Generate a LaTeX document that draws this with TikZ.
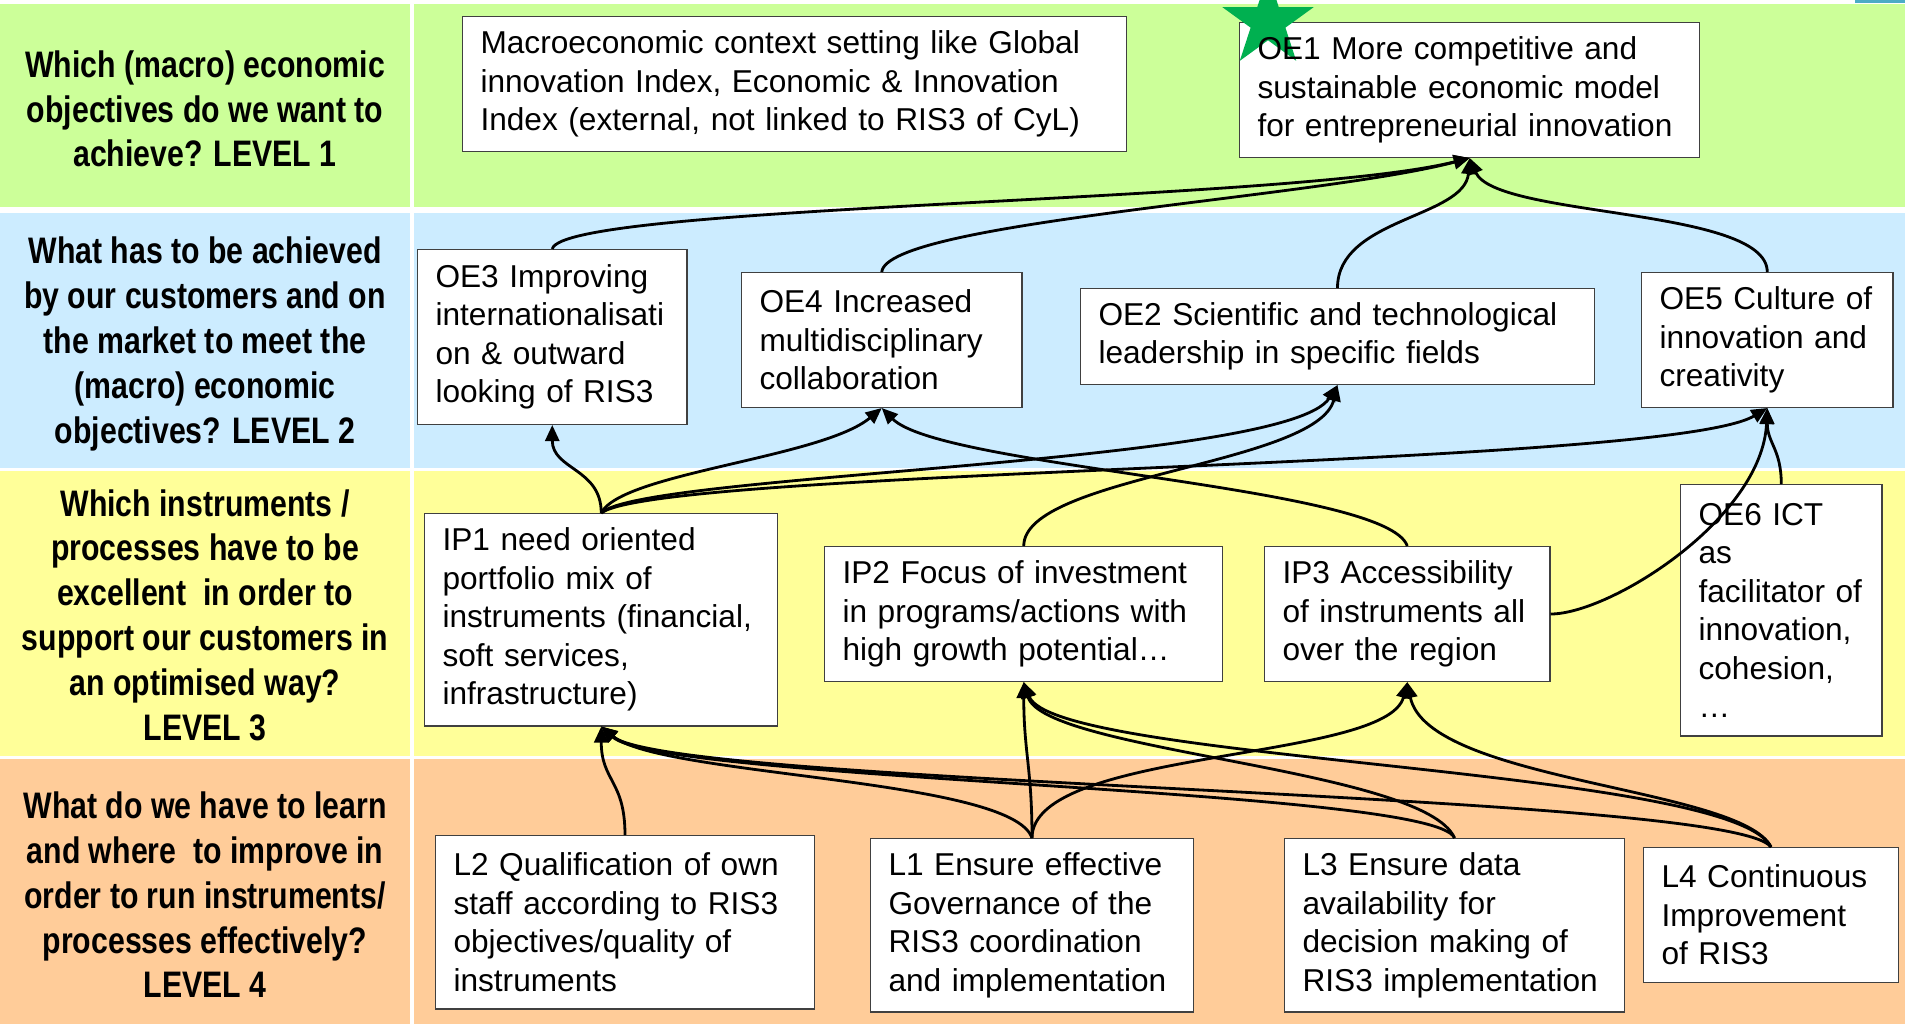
\documentclass[tikz,border=0pt]{standalone}
\usepackage{fontspec}
\setmainfont{Liberation Sans}
\newfontfamily\narrowfont[FakeStretch=0.82]{Liberation Sans}
\usetikzlibrary{arrows.meta}

\definecolor{levelone}{HTML}{CCFF99}
\definecolor{leveltwo}{HTML}{CCECFF}
\definecolor{levelthree}{HTML}{FFFF99}
\definecolor{levelfour}{HTML}{FFCC99}
\definecolor{stargreen}{HTML}{00B050}
\definecolor{tealbit}{HTML}{4BACC6}

\begin{document}
\begin{tikzpicture}[x=0.02cm,y=-0.02cm]
    \tikzset{box/.style 2 args = {draw=black!75, line width=0.6pt, fill=white, anchor=north west,
                 align=left, text width=#1, minimum height=#2, inner xsep=0.36cm, inner ysep=0pt,
                 font=\fontsize{18}{21.9}\selectfont},
             question/.style = {align=center, font=\narrowfont\bfseries\fontsize{21}{25.5}\selectfont},
             link/.style = {line width=1.6pt, -{Triangle[length=0.32cm,width=0.28cm]}}}
    \useasboundingbox (0,0) rectangle (1905,1024);

    % Level bands
    \foreach \ya/\yb/\col in {4/207/levelone, 213/468/leveltwo, 471/756/levelthree, 759/1024/levelfour}{
        \fill[\col] (0,\ya) rectangle (410,\yb);
        \fill[\col] (414,\ya) rectangle (1905,\yb);
    }
    \fill[tealbit] (1855,0) rectangle (1905,3);

    % Questions per level
    \node[question] (Q1) at (205,109) {Which (macro) economic\\objectives do we want to\\achieve? LEVEL 1};
    \node[question] (Q2) at (205,344) {What has to be achieved\\by our customers and on\\the market to meet the\\(macro) economic\\objectives? LEVEL 2};
    \node[question] (Q3) at (205,615) {Which instruments /\\processes have to be\\excellent \ in order to\\support our customers in\\an optimised way?\\LEVEL 3};
    \node[question] (Q4) at (205,895) {What do we have to learn\\and where \ to improve in\\order to run instruments/\\processes effectively?\\LEVEL 4};

    % Level 1
    \node[box={12.57cm}{2.70cm}] (CTX) at (462,16) {Macroeconomic context setting like Global\\innovation Index, Economic \& Innovation\\Index (external, not linked to RIS3 of CyL)};
    \node[box={8.49cm}{2.70cm}] (OE1) at (1239,22) {};
    \fill[stargreen, shift={(1268,22)}] (-90:48) -- (-54:18.3) -- (-18:48) -- (18:18.3) -- (54:48)
        -- (90:18.3) -- (126:48) -- (162:18.3) -- (198:48) -- (234:18.3) -- cycle;
    \node[box={8.49cm}{2.70cm}, draw=none, fill=none, anchor=center] (OE1text) at (OE1.center) {OE1 More competitive and\\sustainable economic model\\for entrepreneurial innovation};

    % Level 2
    \node[box={4.67cm}{3.50cm}] (OE3) at (417,249) {OE3 Improving\\internationalisati\\on \& outward\\looking of RIS3};
    \node[box={4.89cm}{2.70cm}] (OE4) at (741,272) {OE4 Increased\\multidisciplinary\\collaboration};
    \node[box={9.56cm}{1.92cm}] (OE2) at (1080,288) {OE2 Scientific and technological\\leadership in specific fields};
    \node[box={4.31cm}{2.70cm}] (OE5) at (1641,272) {OE5 Culture of\\innovation and\\creativity};

    % Level 3
    \node[box={6.35cm}{4.25cm}] (IP1) at (424,513) {IP1 need oriented\\portfolio mix of\\instruments (financial,\\soft services,\\infrastructure)};
    \node[box={7.25cm}{2.70cm}] (IP2) at (824,546) {IP2 Focus of investment\\in programs/actions with\\high growth potential…};
    \node[box={4.99cm}{2.70cm}] (IP3) at (1264,546) {IP3 Accessibility\\of instruments all\\over the region};
    \node[box={3.31cm}{5.03cm}] (OE6) at (1680,484) {OE6 ICT\\as\\facilitator of\\innovation,\\cohesion,\\…};

    % Level 4
    \node[box={6.86cm}{3.47cm}] (L2) at (435,835) {L2 Qualification of own\\staff according to RIS3\\objectives/quality of\\instruments};
    \node[box={5.74cm}{3.47cm}] (L1) at (870,838) {L1 Ensure effective\\Governance of the\\RIS3 coordination\\and implementation};
    \node[box={6.08cm}{3.47cm}] (L3) at (1284,838) {L3 Ensure data\\availability for\\decision making of\\RIS3 implementation};
    \node[box={4.38cm}{2.70cm}] (L4) at (1643,847) {L4 Continuous\\Improvement\\of RIS3};

    % Links between levels
    \foreach \src/\dst/\ax/\ay/\bx/\by in {
        OE3.north/OE1.south/10/-45/-180/45, OE4.north/OE1.south/5/-50/-150/40,
        OE2.north/OE1.south/0/-70/-5/60, OE5.north/OE1.south/0/-65/25/60,
        IP1.north/OE3.south/0/-45/0/45, IP1.north/OE4.south/20/-40/-60/50,
        IP1.north/OE2.south/40/-40/-50/80, IP1.north/OE5.south/60/-45/-100/60,
        IP2.north/OE2.south/0/-70/-20/80, IP3.north/OE4.south/-20/-60/60/60,
        IP3.east/OE5.south/60/0/-5/110, OE6.north/OE5.south/0/-35/0/35,
        L2.north/IP1.south/0/-55/0/55, L1.north/IP1.south/-20/-60/60/50,
        L3.north/IP1.south/-20/-50/60/55, L4.north/IP1.south/-40/-55/70/60,
        L1.north/IP2.south/0/-70/0/70, L3.north/IP2.south/-30/-70/20/70,
        L4.north/IP2.south/-40/-80/30/80, L1.north/IP3.south/0/-90/-20/80,
        L4.north/IP3.south/-30/-60/20/100}
        \draw[link] (\src) .. controls +(\ax,\ay) and +(\bx,\by) .. (\dst);
\end{tikzpicture}
\end{document}
